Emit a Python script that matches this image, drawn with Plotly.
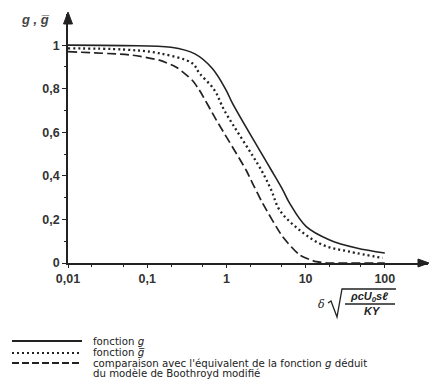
import plotly.graph_objects as go

# ---------------- data ----------------
g_delta = [0.01, 0.05, 0.2, 0.4, 0.66, 0.99, 1.19, 2.62, 3.68, 5.16, 6.27, 10.2, 20.1, 43.9, 100]
g_value = [1.0, 0.998, 0.99, 0.96, 0.894, 0.794, 0.734, 0.518, 0.427, 0.335, 0.275, 0.167, 0.106, 0.069, 0.046]

gbar_delta = [0.01, 0.05, 0.14, 0.37, 0.455, 0.705, 0.944, 2.75, 3.68, 4.69, 8.4, 16.4, 36, 94]
gbar_value = [0.985, 0.98, 0.963, 0.917, 0.872, 0.794, 0.70, 0.427, 0.335, 0.243, 0.151, 0.083, 0.052, 0.023]

boo_delta = [0.01, 0.065, 0.142, 0.233, 0.37, 0.455, 0.746, 1.77, 2.13, 2.86, 5.12, 8.4, 13.6, 20, 100]
boo_value = [0.97, 0.954, 0.931, 0.899, 0.839, 0.794, 0.656, 0.427, 0.367, 0.275, 0.121, 0.037, 0.006, 0.0, 0.0]

x_tickvals = [0.01, 0.1, 1, 10, 100]
x_ticktext = ["0,01", "0,1", "1", "10", "100"]
x_minor = [0.02, 0.05, 0.2, 0.5, 2, 5, 20, 50]
y_tickvals = [0, 0.2, 0.4, 0.6, 0.8, 1]
y_ticktext = ["0", "0,2", "0,4", "0,6", "0,8", "1"]

legend_labels = ["fonction <i>g</i>", "fonction <i>g̅</i>",
                 "comparaison avec l'équivalent de la fonction <i>g</i> déduit",
                 "du modèle de Boothroyd modifié"]

INK = "#222222"
W, H = 442, 390
ML, MR, MT, MB = 68, 14, 14, 127
XR = [-2, 2.545]
YR = [0, 1.143]

def px(x):
    return (x - ML) / (W - ML - MR)

def py(y):
    return (H - MB - y) / (H - MB - MT)

def path_of(pts, close=False):
    s = "M " + " L ".join(f"{px(a):.5f},{py(b):.5f}" for a, b in pts)
    return s + (" Z" if close else "")

fig = go.Figure()
fig.add_trace(go.Scatter(x=g_delta, y=g_value, mode="lines",
                         line=dict(color=INK, width=1.6, shape="spline", smoothing=1.0),
                         cliponaxis=False, showlegend=False))
fig.add_trace(go.Scatter(x=gbar_delta, y=gbar_value, mode="lines",
                         line=dict(color=INK, width=2.3, dash="2px,3px", shape="spline", smoothing=1.0),
                         cliponaxis=False, showlegend=False))
fig.add_trace(go.Scatter(x=boo_delta, y=boo_value, mode="lines",
                         line=dict(color=INK, width=1.7, dash="9px,4px", shape="spline", smoothing=0.6),
                         cliponaxis=False, showlegend=False))

tickfont = dict(family="Liberation Sans, Arial", size=12.5, color="#333")
fig.update_xaxes(type="log", range=XR, showline=True, linecolor=INK, linewidth=1.5,
                 showgrid=False, zeroline=False, tickmode="array", tickvals=x_tickvals,
                 ticktext=[f"<b>{t}</b>" for t in x_ticktext], ticks="outside", ticklen=3,
                 tickwidth=1.2, tickcolor=INK, tickfont=tickfont,
                 minor=dict(tickmode="array", tickvals=x_minor, ticks="outside", ticklen=2,
                            tickwidth=1, tickcolor=INK, showgrid=False))
fig.update_yaxes(range=YR, showline=True, linecolor=INK, linewidth=1.5,
                 showgrid=False, zeroline=False, tickmode="array", tickvals=y_tickvals,
                 ticktext=[f"<b>{t}</b>" for t in y_ticktext], ticks="outside", ticklen=4,
                 tickwidth=1.2, tickcolor=INK, tickfont=tickfont,
                 minor=dict(dtick=0.1, ticks="outside", ticklen=2, tickwidth=1, tickcolor=INK,
                            showgrid=False))

anns = []
shapes = []
# axis arrowheads
shapes.append(dict(type="path", path=path_of([(429, 263), (418, 259), (418, 267)], True),
                   xref="paper", yref="paper", fillcolor=INK, line=dict(color=INK, width=1)))
shapes.append(dict(type="path", path=path_of([(68, 12), (63.5, 24), (72.5, 24)], True),
                   xref="paper", yref="paper", fillcolor=INK, line=dict(color=INK, width=1)))

# y axis title
anns.append(dict(x=px(35), y=py(19), xref="paper", yref="paper", text="<b><i>g , g̅</i></b>",
                 showarrow=False, xanchor="center", yanchor="middle",
                 font=dict(family="Liberation Sans, Arial", size=13, color="#444")))
# x axis title pieces
tfont = dict(family="Liberation Sans, Arial", size=11, color=INK)
anns.append(dict(x=px(321), y=py(304), xref="paper", yref="paper", text="<i>δ</i>",
                 showarrow=False, xanchor="center", yanchor="middle",
                 font=dict(family="DejaVu Serif", size=11, color=INK)))
anns.append(dict(x=px(369), y=py(297), xref="paper", yref="paper",
                 text="<b><i>ρcU<sub>0</sub>sℓ</i></b>", showarrow=False,
                 xanchor="center", yanchor="middle", font=tfont))
anns.append(dict(x=px(372), y=py(311), xref="paper", yref="paper", text="<b><i>KY</i></b>",
                 showarrow=False, xanchor="center", yanchor="middle", font=tfont))

# radical sign
shapes.append(dict(type="path", path=path_of([(328, 303), (331, 301), (337, 317), (342, 289), (396, 289)]),
                   xref="paper", yref="paper", line=dict(color=INK, width=1.3)))
# fraction bar
shapes.append(dict(type="line", x0=px(345), x1=px(395), y0=py(304), y1=py(304),
                   xref="paper", yref="paper", line=dict(color=INK, width=1.3)))

# legend
leg_y = [341, 353, 363]
leg_dash = ["solid", "2px,3px", "7px,3px"]
leg_w = [2.0, 1.8, 2.2]
for yy, d, w in zip(leg_y, leg_dash, leg_w):
    shapes.append(dict(type="line", x0=px(12), x1=px(82), y0=py(yy), y1=py(yy),
                       xref="paper", yref="paper", line=dict(color=INK, width=w, dash=d)))
lfont = dict(family="DejaVu Sans", size=10.2, color=INK)
for txt, yy in zip(legend_labels, [341, 352, 363, 373.5]):
    anns.append(dict(x=px(91), y=py(yy), xref="paper", yref="paper", text=txt,
                     showarrow=False, xanchor="left", yanchor="middle", font=lfont))

fig.update_layout(width=W, height=H, margin=dict(l=ML, r=MR, t=MT, b=MB, autoexpand=False),
                  plot_bgcolor="white", paper_bgcolor="white", showlegend=False,
                  annotations=anns, shapes=shapes)

fig.write_html("out.html")
